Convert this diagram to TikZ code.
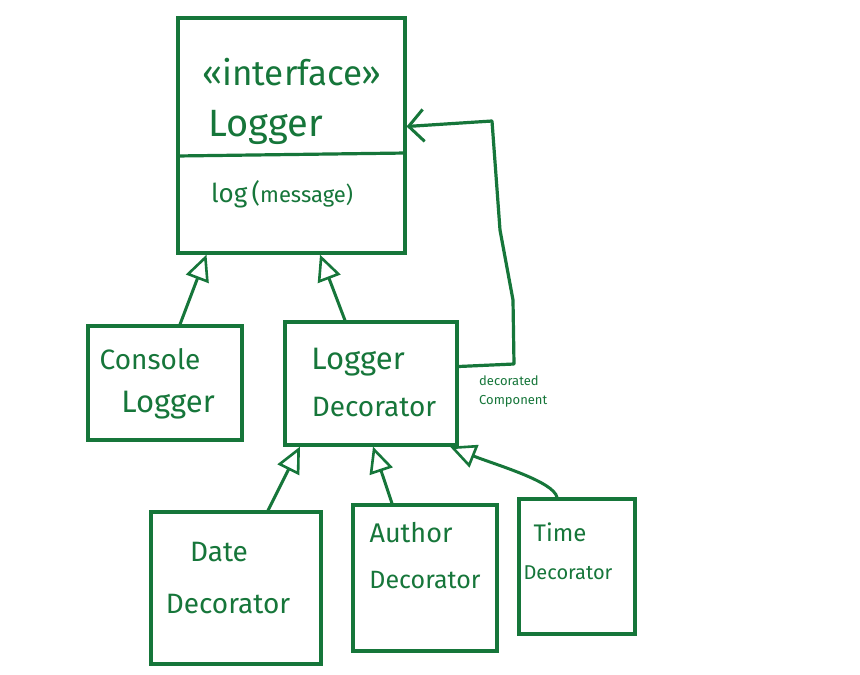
\documentclass[tikz,border=0pt]{standalone}
\usepackage{fontspec}
\setmainfont{Fira Sans}
\usetikzlibrary{arrows.meta}
\definecolor{ink}{RGB}{22,118,58}
\begin{document}
\begin{tikzpicture}[x=1pt,y=-1pt,
  box/.style={draw=ink, line width=3.2pt, inner sep=0pt},
  lbl/.style={text=ink, inner sep=0pt, anchor=center},
  big/.style={lbl, font=\fontsize{28}{30}\selectfont},
  mid/.style={lbl, font=\fontsize{25}{27}\selectfont},
  small/.style={lbl, font=\fontsize{20}{22}\selectfont},
  inh/.style={draw=ink, line width=3pt, line cap=round,
    -{Triangle[open,length=26pt,width=24pt,line width=2.6pt]}},
  assoc/.style={draw=ink, line width=3.2pt, line join=round,
    -{Straight Barb[length=15pt,width=32pt,line width=3pt]}}]
\useasboundingbox (0,0) rectangle (860,675);
\fill[white] (0,0) rectangle (860,675);

% Logger interface
\node[box, minimum width=227pt, minimum height=235pt] (logger) at (291.5,135.5) {};
\draw[ink, line width=3.2pt] (logger.west |- 0,156) coordinate (dl) -- (logger.east |- 0,153) coordinate (dr);
\node[lbl, font=\fontsize{35}{37}\selectfont] (stereo) at (292,72) {«interface»};
\node[lbl, font=\fontsize{38}{40}\selectfont, anchor=west] (lname) at (208,127) {Logger};
\node[lbl, font=\fontsize{26}{28}\selectfont, anchor=west] (lop) at (211,194) {log\,(\fontsize{22}{24}\selectfont message)};

% Console Logger
\node[box, minimum width=154pt, minimum height=114pt] (console) at (165,383) {};
\node[big] (c1) at (150,359) {Console};
\node[lbl, font=\fontsize{31}{33}\selectfont] (c2) at (168,405) {Logger};

% Logger Decorator
\node[box, minimum width=172pt, minimum height=123pt] (ld) at (371,383.5) {};
\node[lbl, font=\fontsize{31}{33}\selectfont] (d1) at (358,362) {Logger};
\node[big] (d2) at (374,407) {Decorator};

% Date Decorator
\node[box, minimum width=170pt, minimum height=152pt] (date) at (236,588) {};
\node[big] (e1) at (219,552) {Date};
\node[big] (e2) at (228,604) {Decorator};

% Author Decorator
\node[box, minimum width=144pt, minimum height=146pt] (author) at (425,578) {};
\node[lbl, font=\fontsize{27}{29}\selectfont] (a1) at (411,533) {Author};
\node[mid] (a2) at (425,580) {Decorator};

% Time Decorator
\node[box, minimum width=116pt, minimum height=135pt] (time) at (577,566.5) {};
\node[lbl, font=\fontsize{24}{26}\selectfont] (t1) at (560,532) {Time};
\node[small] (t2) at (568,573) {Decorator};

% inheritance
\draw[inh] ([xshift=15pt]console.north) -- ([xshift=-85pt]logger.south);
\draw[inh] ([xshift=-26pt]ld.north) -- ([xshift=28.5pt]logger.south);
\draw[inh] ([xshift=32pt]date.north) -- ([xshift=-71pt]ld.south);
\draw[inh] ([xshift=-33pt]author.north) -- ([xshift=2pt]ld.south);
\draw[inh] ([xshift=-20pt]time.north) .. controls +(-3,-16) and +(45,18) .. ([xshift=79pt]ld.south);

% association
\coordinate (b1) at (514,364);
\coordinate (b2) at (513,300);
\coordinate (b3) at (500,230);
\coordinate (b4) at (492,121);
\draw[assoc] ([yshift=17pt]ld.east) -- (b1) -- (b2) -- (b3) -- (b4) -- ([yshift=9pt]logger.east);
\node[lbl, anchor=west, align=left, font=\fontsize{13}{19}\selectfont] (role) at (479,392) {decorated\\Component};
\end{tikzpicture}
\end{document}
